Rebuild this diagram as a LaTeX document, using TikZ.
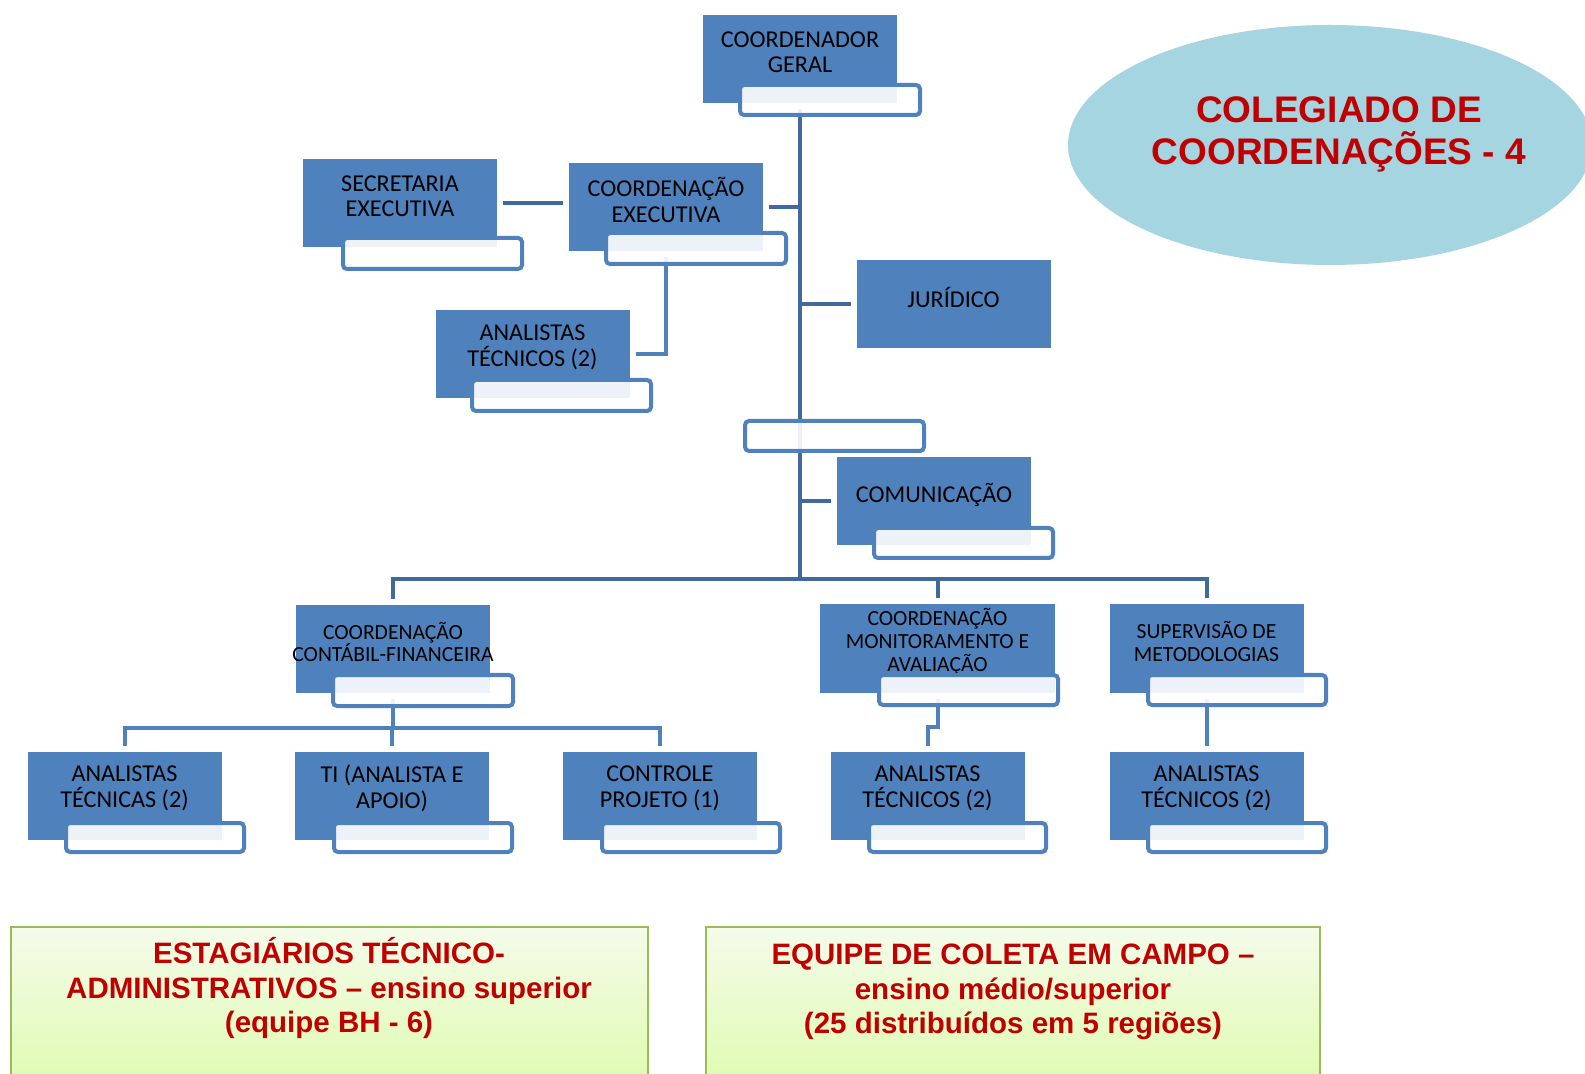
\documentclass[tikz,border=0pt]{standalone}
\usepackage{fontspec}
\setmainfont{Carlito}
\newfontfamily\arialfont{Liberation Sans}
\usetikzlibrary{backgrounds}

\definecolor{ofblue}{HTML}{4F81BD}
\definecolor{lineblue}{HTML}{41699B}
\definecolor{ellblue}{HTML}{A6D5E2}
\definecolor{darkred}{HTML}{C00000}
\definecolor{grnborder}{HTML}{9BBB59}
\definecolor{grntop}{HTML}{F4FBEA}
\definecolor{grnbot}{HTML}{DCFBA8}

\newcommand{\bigtxt}{\fontsize{12.1}{12.7}\selectfont}
\newcommand{\smalltxt}{\fontsize{10.8}{11.4}\selectfont}

\tikzset{
  unit/.style 2 args={fill=ofblue, minimum width=97pt, minimum height=44pt, inner sep=0pt, outer sep=3pt,
    label={[yshift=3.5pt, align=center, font=#1]center:#2}},
  tab/.style={draw=ofblue, line width=2pt, fill=white, fill opacity=0.9, rounded corners=2pt},
  link/.style={draw=lineblue, line width=2pt},
  sublink/.style={draw=ofblue, line width=2pt},
  teamtxt/.style={font=\arialfont\bfseries\fontsize{14.75}{17.25}\selectfont, text=darkred, align=center},
  teambox/.style={top color=grntop, bottom color=grnbot, draw=grnborder, line width=1pt}
}

\begin{document}
\begin{tikzpicture}[x=0.5pt, y=-0.5pt]
	\useasboundingbox (0,0) rectangle (1585,1074);
	\clip (0,0) rectangle (1585,1074);
	% colegiado
	\fill[ellblue] (1330,145) ellipse [x radius=131pt, y radius=60pt];
	\node[font=\arialfont\bfseries\fontsize{18.5}{21}\selectfont, text=darkred, align=center] (coleg) at (1339,134) {COLEGIADO DE\\COORDENAÇÕES - 4};
	% units
	\node[unit={\bigtxt}{COORDENADOR\\GERAL}] (gen) at (800,59) {};
	\node[unit={\bigtxt}{SECRETARIA\\EXECUTIVA}] (sec) at (400,203) {};
	\node[unit={\bigtxt}{COORDENAÇÃO\\EXECUTIVA}] (cex) at (666,207) {};
	\node[unit={\bigtxt}{ANALISTAS\\TÉCNICOS (2)}] (ana1) at (532.5,354.5) {};
	\node[unit={\bigtxt}{JURÍDICO}] (jur) at (953.5,304.5) {};
	\node[unit={\bigtxt}{COMUNICAÇÃO}] (com) at (934,501.5) {};
	\node[unit={\smalltxt}{COORDENAÇÃO\\CONTÁBIL-FINANCEIRA}] (ccf) at (393,649) {};
	\node[unit={\smalltxt}{COORDENAÇÃO\\MONITORAMENTO E\\AVALIAÇÃO}, minimum width=117.5pt] (cma) at (937.5,648.5) {};
	\node[unit={\smalltxt}{SUPERVISÃO DE\\METODOLOGIAS}] (sup) at (1206.5,648.5) {};
	\node[unit={\bigtxt}{ANALISTAS\\TÉCNICAS (2)}] (ana2) at (124.5,795.5) {};
	\node[unit={\bigtxt}{TI (ANALISTA E\\APOIO)}] (ti) at (392,795.5) {};
	\node[unit={\bigtxt}{CONTROLE\\PROJETO (1)}] (ctl) at (660,795.5) {};
	\node[unit={\bigtxt}{ANALISTAS\\TÉCNICOS (2)}] (ana3) at (927.5,795.5) {};
	\node[unit={\bigtxt}{ANALISTAS\\TÉCNICOS (2)}] (ana4) at (1206.5,795.5) {};
	% tabs
	\draw[tab] (740,85) rectangle (920,115);
	\draw[tab] (343,238) rectangle (522,269);
	\draw[tab] (606,233) rectangle (786,264);
	\draw[tab] (472,380) rectangle (651,411);
	\draw[tab] (745,421) rectangle (924,451);
	\draw[tab] (874,528) rectangle (1053,558);
	\draw[tab] (333,675) rectangle (513,706);
	\draw[tab] (879,675) rectangle (1058,705);
	\draw[tab] (1148,675) rectangle (1326,705);
	\draw[tab] (66,823) rectangle (244,852);
	\draw[tab] (334,823) rectangle (512,852);
	\draw[tab] (602,823) rectangle (780,852);
	\draw[tab] (869,823) rectangle (1046,852);
	\draw[tab] (1148,823) rectangle (1326,852);
	% connectors
	\begin{scope}[on background layer]
		\coordinate (hub) at (800,579);
		\coordinate (cfhub) at (393,728);
		\coordinate (cmjog) at (937.5,727);
		\draw[link] (gen) -- (hub);
		\draw[link] (ccf) |- (hub) -| (sup);
		\draw[link] (cma) |- (hub);
		\draw[link] (sec) -- (sec -| cex.west);
		\draw[link] (cex) -- (cex -| gen);
		\draw[link] (jur) -- (jur -| gen);
		\draw[link] (com) -- (com -| gen);
		\draw[sublink] (cex) |- (ana1);
		\draw[sublink] (ccf) -- (cfhub);
		\draw[sublink] (ana2) |- (cfhub) -| (ctl);
		\draw[sublink] (ti) -- (ti |- cfhub);
		\draw[sublink] (cma) -- (cmjog) -| (ana3);
		\draw[sublink] (sup) -- (ana4);
	\end{scope}
	% teams
	\shade[teambox] (11,927) rectangle (648,1110);
	\shade[teambox] (706,927) rectangle (1320,1110);
	\node[teamtxt] (estag) at (329,988) {ESTAGIÁRIOS TÉCNICO-\\ADMINISTRATIVOS – ensino superior\\(equipe BH - 6)};
	\node[teamtxt] (coleta) at (1013,992) {EQUIPE DE COLETA EM CAMPO –\\ensino médio/superior\\(25 distribuídos em 5 regiões)};
\end{tikzpicture}
\end{document}
